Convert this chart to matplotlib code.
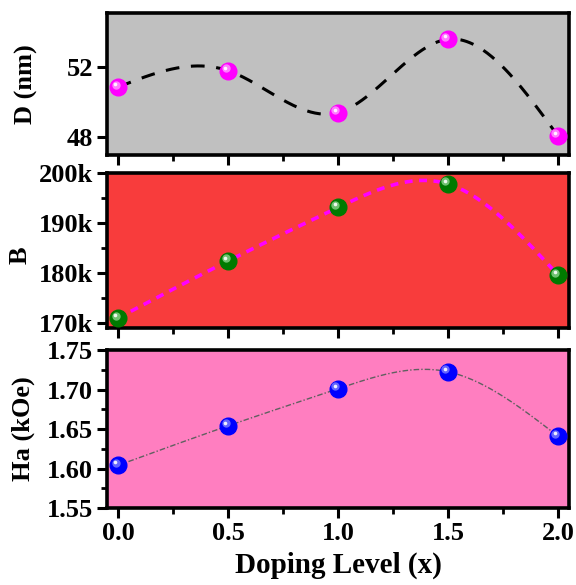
import numpy as np
import matplotlib
matplotlib.use("Agg")
import matplotlib.pyplot as plt
from matplotlib import transforms
from matplotlib.ticker import MultipleLocator, FuncFormatter

plt.rcParams['font.family'] = ['Liberation Serif', 'DejaVu Serif']
plt.rcParams['font.weight'] = 'bold'

doping = [0.0, 0.5, 1.0, 1.5, 2.0]
D_nm = [50.86, 51.80, 49.40, 53.60, 48.06]
B_vals = [171000, 182400, 193100, 197800, 179600]
Ha_kOe = [1.604, 1.654, 1.701, 1.7225, 1.641]


def natural_spline(x, y, n=300):
    x = np.asarray(x, float); y = np.asarray(y, float)
    k = len(x)
    h = np.diff(x)
    A = np.zeros((k, k)); r = np.zeros(k)
    A[0, 0] = 1; A[-1, -1] = 1
    for i in range(1, k - 1):
        A[i, i - 1] = h[i - 1]; A[i, i] = 2 * (h[i - 1] + h[i]); A[i, i + 1] = h[i]
        r[i] = 3 * ((y[i + 1] - y[i]) / h[i] - (y[i] - y[i - 1]) / h[i - 1])
    c = np.linalg.solve(A, r)
    b = np.zeros(k - 1); d = np.zeros(k - 1)
    for i in range(k - 1):
        b[i] = (y[i + 1] - y[i]) / h[i] - h[i] * (2 * c[i] + c[i + 1]) / 3
        d[i] = (c[i + 1] - c[i]) / (3 * h[i])
    xs = np.linspace(x[0], x[-1], n)
    idx = np.clip(np.searchsorted(x, xs) - 1, 0, k - 2)
    t = xs - x[idx]
    ys = y[idx] + b[idx] * t + c[idx] * t ** 2 + d[idx] * t ** 3
    return xs, ys


fig = plt.figure(figsize=(5.76, 5.85), dpi=100)
L, W = 0.1858, 0.802
ax1 = fig.add_axes([L, 0.735, W, 0.2427])
ax2 = fig.add_axes([L, 0.4393, W, 0.265])
ax3 = fig.add_axes([L, 0.1316, W, 0.270])

FS = 19


def sphere(ax, x, y, color, hl):
    ax.plot(x, y, 'o', ms=12, color=color, mec=color, zorder=5)
    tr = transforms.offset_copy(ax.transData, fig=fig, x=-2.5, y=2.5, units='dots')
    ax.plot(x, y, 'o', ms=6, color=hl, mec='none', alpha=0.7, transform=tr, zorder=6)
    tr2 = transforms.offset_copy(ax.transData, fig=fig, x=-3, y=3, units='dots')
    ax.plot(x, y, 'o', ms=2.6, color='white', mec='none', alpha=0.9, transform=tr2, zorder=7)


def style(ax, bg):
    ax.set_facecolor(bg)
    ax.set_xlim(-0.05, 2.05)
    for s in ax.spines.values():
        s.set_linewidth(2.6)
    ax.xaxis.set_major_locator(MultipleLocator(0.5))
    ax.xaxis.set_minor_locator(MultipleLocator(0.25))
    ax.tick_params(which='major', direction='out', length=7, width=2.2, labelsize=FS, pad=3)
    ax.tick_params(which='minor', direction='out', length=4, width=2.0)
    ax.tick_params(top=False, right=False, which='both')


# Top panel
style(ax1, '#C0C0C0')
xs, ys = natural_spline(doping, D_nm)
ax1.plot(xs, ys, color='black', lw=2.2, ls=(0, (4.5, 3.8)))
sphere(ax1, doping, D_nm, '#FF00FF', '#FFB0FF')
ax1.set_ylim(46.97, 55.1)
ax1.set_yticks([48, 52])
ax1.yaxis.set_minor_locator(MultipleLocator(100))
ax1.tick_params(labelbottom=False)
ax1.set_ylabel('D (nm)', fontsize=FS, fontweight='bold')
ax1.yaxis.set_label_coords(-0.149, 0.5)

# Middle panel
style(ax2, '#F83C3C')
xs, ys = natural_spline(doping, B_vals)
ax2.plot(xs, ys, color='#FF00FF', lw=2.6, ls=(0, (2.2, 1.8)))
sphere(ax2, doping, B_vals, '#007A00', '#A0E0A0')
ax2.set_ylim(169000, 200000)
ax2.yaxis.set_major_locator(MultipleLocator(10000))
ax2.yaxis.set_minor_locator(MultipleLocator(5000))
ax2.yaxis.set_major_formatter(FuncFormatter(lambda v, p: f'{int(round(v/1000))}k'))
ax2.tick_params(labelbottom=False)
ax2.set_ylabel('B', fontsize=FS, fontweight='bold')
ax2.yaxis.set_label_coords(-0.163, 0.47)

# Bottom panel
style(ax3, '#FF7EC0')
xs, ys = natural_spline(doping, Ha_kOe)
ax3.plot(xs, ys, color='#606060', lw=1.0, ls=(0, (4, 1.5, 1, 1.5)))
sphere(ax3, doping, Ha_kOe, '#0000FF', '#9090FF')
ax3.set_ylim(1.55, 1.75)
ax3.yaxis.set_major_locator(MultipleLocator(0.05))
ax3.yaxis.set_minor_locator(MultipleLocator(0.025))
ax3.yaxis.set_major_formatter(FuncFormatter(lambda v, p: f'{v:.2f}'))
ax3.xaxis.set_major_formatter(FuncFormatter(lambda v, p: f'{v:.1f}'))
ax3.set_ylabel('Ha (kOe)', fontsize=FS, fontweight='bold')
ax3.yaxis.set_label_coords(-0.156, 0.5)
ax3.set_xlabel('Doping Level (x)', fontsize=21, fontweight='bold', labelpad=5)

for ax in (ax1, ax2, ax3):
    for lab in ax.get_xticklabels() + ax.get_yticklabels():
        lab.set_fontweight('bold')

fig.savefig('out.png', dpi=100)
